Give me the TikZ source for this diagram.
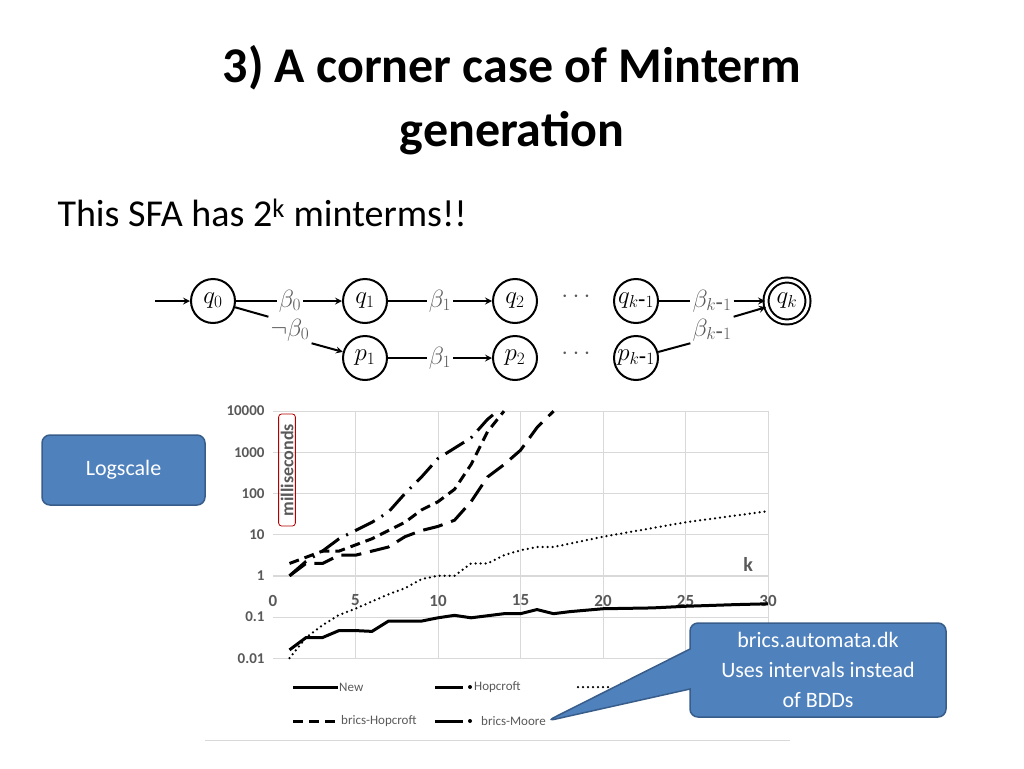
\documentclass[tikz,border=0pt]{standalone}
\usepackage{fontspec}
\setmainfont{Carlito}
\usetikzlibrary{positioning,shapes.callouts}
\definecolor{callblue}{HTML}{4F81BD}
\definecolor{callline}{HTML}{385D8A}
\definecolor{gridgray}{HTML}{D9D9D9}
\definecolor{labgray}{HTML}{595959}
\tikzset{
  state/.style={draw,line width=2pt,circle,minimum size=44pt,inner sep=0pt,font=\fontsize{24}{26}\selectfont},
  accepting/.style={state,double,double distance=3pt,minimum size=42pt},
  trans/.style={font=\fontsize{24}{26}\selectfont,text=labgray,inner sep=2pt},
  edgeline/.style={line width=2pt},
  edgearrow/.style={line width=2pt,-stealth},
  callbox/.style={rounded corners=8pt,fill=callblue,draw=callline,line width=1.5pt,text=white,align=center,font=\fontsize{22}{30}\selectfont},
  ticklab/.style={font=\bfseries\fontsize{15}{17}\selectfont,text=labgray},
  legtext/.style={font=\fontsize{13}{15}\selectfont,text=labgray,anchor=west,inner sep=1pt},
  curve/.style={line width=3pt}
}
\begin{document}
\begin{tikzpicture}[x=1pt,y=-1pt]
  \useasboundingbox (0,0) rectangle (1024,768);

  % title
  \node (title1) at (512,68) {\bfseries\fontsize{50}{56}\selectfont 3) A corner case of Minterm};
  \node (title2) at (512,133) {\bfseries\fontsize{50}{56}\selectfont generation};
  \node[anchor=west] (intro) at (54,213) {\fontsize{38}{42}\selectfont This SFA has 2\textsuperscript{k} minterms!!};

  % automaton
  \node[state] (q0) at (213,301) {$q_0$};
  \node[state] (q1) at (365,301) {$q_1$};
  \node[state] (q2) at (515,301) {$q_2$};
  \node[state] (qk1) at (636,301) {$q_{k\mbox{-}1}$};
  \node[accepting] (qk) at (787,301) {$q_k$};
  \node[state] (p1) at (365,358) {$p_1$};
  \node[state] (p2) at (515,358) {$p_2$};
  \node[state] (pk1) at (636,358) {$p_{k\mbox{-}1}$};
  \coordinate (start) at (155,301);

  \node[trans] (b0) at (290,301) {$\beta_0$};
  \node[trans] (nb0) at (290,330) {$\neg\beta_0$};
  \node[trans] (b1) at (440,301) {$\beta_1$};
  \node[trans] (b1p) at (440,358) {$\beta_1$};
  \node[trans] (dq) at (576,297) {$\cdots$};
  \node[trans] (dp) at (576,354) {$\cdots$};
  \node[trans] (bk) at (712,301) {$\beta_{k\mbox{-}1}$};
  \node[trans] (bkp) at (712,330) {$\beta_{k\mbox{-}1}$};

  \draw[edgearrow] (start) -- (q0);
  \draw[edgeline] (q0) -- (b0);
  \draw[edgearrow] (b0) -- (q1);
  \draw[edgeline] (q0) -- (nb0.north west);
  \draw[edgearrow] (nb0.south east) -- (p1);
  \draw[edgeline] (q1) -- (b1);
  \draw[edgearrow] (b1) -- (q2);
  \draw[edgeline] (p1) -- (b1p);
  \draw[edgearrow] (b1p) -- (p2);
  \draw[edgeline] (qk1) -- (bk);
  \draw[edgearrow] (bk) -- (qk);
  \draw[edgeline] (pk1) -- (bkp.south west);
  \draw[edgearrow] (bkp.north east) -- (qk);

  % chart: k and log10(ms)
  \begin{scope}[shift={(273,575.8)},x=16.5pt,y=41.17pt]
    \foreach \d in {-2,...,4} \draw[gridgray] (0,\d) -- (30,\d);
    \foreach \k in {5,10,...,30} \draw[gridgray] (\k,-2) -- (\k,4);
    \draw[gridgray,thick] (0,0) -- (30,0);
    \foreach \d/\lab in {4/10000,3/1000,2/100,1/10,0/1,-1/0.1,-2/0.01}
      \node[ticklab,anchor=east] (yt\d) at (-0.3,\d) {\lab};
    \foreach \k in {0,5,...,30}
      \node[ticklab,font=\bfseries\fontsize{17}{19}\selectfont] (xt\k) at (\k,-0.6) {\k};
    \node[ticklab,font=\bfseries\fontsize{20}{22}\selectfont] (klab) at (28.8,0.28) {k};

    % New
    \draw[curve] (1,-1.8) -- (2,-1.5) -- (3,-1.5) -- (4,-1.33) -- (5,-1.33) -- (6,-1.35) -- (7,-1.1) -- (8,-1.1) -- (9,-1.1) -- (10,-1.02) -- (11,-0.96) -- (12,-1.02) -- (13,-0.97) -- (14,-0.92) -- (15,-0.92) -- (16,-0.82) -- (17,-0.92) -- (18,-0.87) -- (20,-0.8) -- (23,-0.78) -- (25,-0.74) -- (28,-0.7) -- (30,-0.68);
    % Moore
    \draw[line width=2.5pt,dash pattern=on 0pt off 5pt,line cap=round] (1,-2) -- (2,-1.5) -- (3,-1.2) -- (4,-0.95) -- (5,-0.8) -- (6,-0.62) -- (7,-0.45) -- (8,-0.3) -- (9,-0.08) -- (10,0) -- (11,0) -- (12,0.3) -- (13,0.3) -- (14,0.5) -- (15,0.62) -- (16,0.7) -- (17,0.7) -- (20,0.95) -- (25,1.3) -- (30,1.57);
    % Hopcroft
    \draw[curve,dash pattern=on 20pt off 9pt] (1,0) -- (2,0.3) -- (3,0.3) -- (4,0.5) -- (5,0.5) -- (6,0.6) -- (7,0.7) -- (8,0.95) -- (9,1.1) -- (10,1.2) -- (11,1.35) -- (12,1.8) -- (13,2.4) -- (14,2.7) -- (15,3.05) -- (16,3.6) -- (17,4);
    % brics-Hopcroft
    \draw[curve,dash pattern=on 10pt off 6pt] (1,0.3) -- (2,0.45) -- (3,0.6) -- (4,0.6) -- (5,0.75) -- (6,0.9) -- (7,1.1) -- (8,1.3) -- (9,1.6) -- (10,1.8) -- (11,2.1) -- (12,2.7) -- (13,3.5) -- (14,4);
    % brics-Moore
    \draw[curve,dash pattern=on 22pt off 8pt on 2pt off 8pt] (1,0) -- (2,0.35) -- (3,0.6) -- (4,0.9) -- (5,1.1) -- (6,1.3) -- (7,1.55) -- (8,2.0) -- (9,2.4) -- (10,2.85) -- (11,3.1) -- (12,3.35) -- (13,3.8) -- (13.6,4);
  \end{scope}

  \node[draw=red!70!black,thick,rounded corners=3pt,rotate=90,inner sep=2pt,
        font=\bfseries\fontsize{18}{20}\selectfont,text=labgray,minimum width=112pt] (ms) at (287,470) {milliseconds};

  % legend
  \draw[curve] (293,687) -- (338,687);
  \node[legtext] (lnew) at (338,687) {New};
  \draw[curve] (435,687) -- (463,687);
  \fill (470,687) circle (2pt);
  \node[legtext] (lhop) at (473,687) {Hopcroft};
  \draw[line width=2.5pt,dash pattern=on 0pt off 5pt,line cap=round] (578,687) -- (612,687);
  \node[legtext] (lmoore) at (618,687) {Moore};
  \draw[curve,dash pattern=on 10pt off 6pt] (293,721) -- (335,721);
  \node[legtext] (lbh) at (340,721) {brics-Hopcroft};
  \draw[curve] (435,721) -- (463,721);
  \fill (470,721) circle (2pt);
  \node[legtext] (lbm) at (480,721) {brics-Moore};
  \draw[gridgray] (205,740) -- (790,740);

  % callouts
  \node[callbox,minimum width=163pt,minimum height=70pt] (logscale) at (123.5,470) {Logscale};
  \node[callbox,rectangle callout,callout absolute pointer={(lbm.east)},callout pointer width=40pt,minimum width=256pt,minimum height=94pt] (brics) at (818,670) {brics.automata.dk\\Uses intervals instead\\of BDDs};
\end{tikzpicture}
\end{document}
